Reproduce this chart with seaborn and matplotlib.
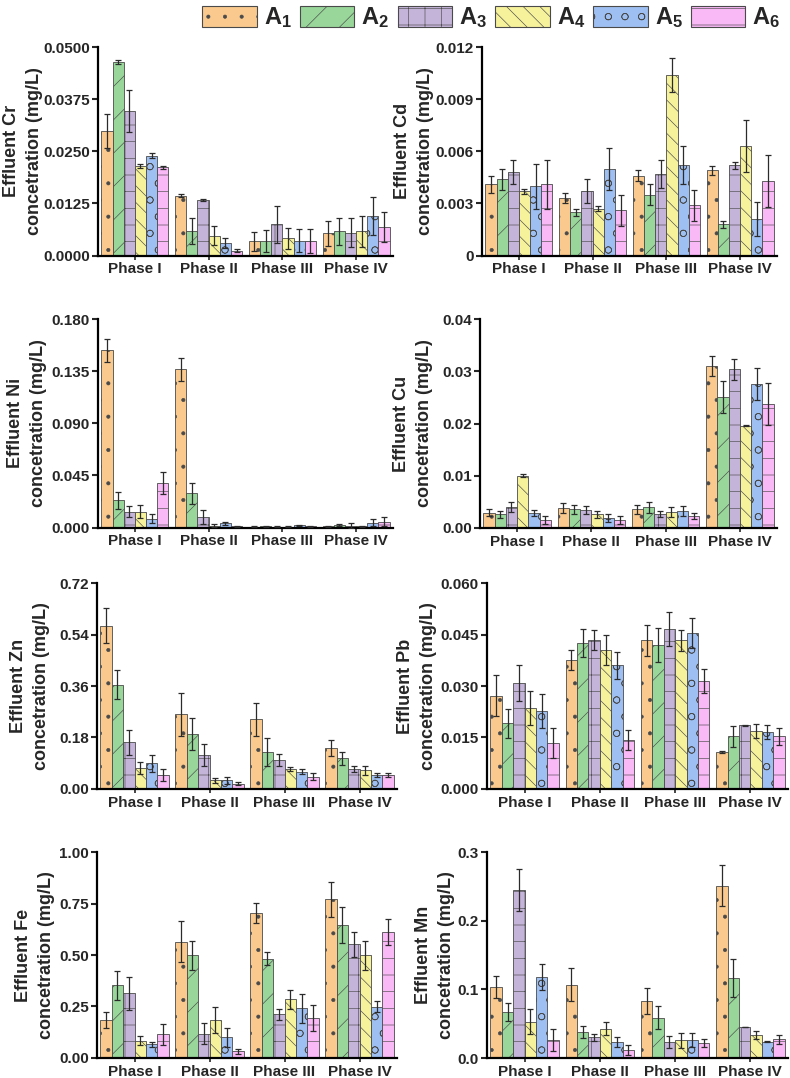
import matplotlib
matplotlib.use("Agg")
import matplotlib.pyplot as plt
from matplotlib.patches import Patch
import pandas as pd
import seaborn as sns

phases = ['Phase I', 'Phase II', 'Phase III', 'Phase IV']
treatments = ['A1', 'A2', 'A3', 'A4', 'A5', 'A6']
legend_labels = [r'$\mathbf{A_1}$', r'$\mathbf{A_2}$', r'$\mathbf{A_3}$',
                 r'$\mathbf{A_4}$', r'$\mathbf{A_5}$', r'$\mathbf{A_6}$']
colors = ['#F9C98E', '#98D69A', '#C5B4DA', '#F6F29C', '#9EBFF2', '#F9B8F6']
hatches = ['.', '/', '+', '\\\\', 'o', '-']

# values per phase (rows) and treatment A1..A6 (columns)
cr_mean = [[0.0299, 0.0464, 0.0347, 0.0215, 0.0240, 0.0212],
           [0.0144, 0.0058, 0.0133, 0.0048, 0.0031, 0.0012],
           [0.0034, 0.0035, 0.0075, 0.0041, 0.0036, 0.0034],
           [0.0053, 0.0058, 0.0055, 0.0058, 0.0095, 0.0069]]
cr_err = [[0.0040, 0.0005, 0.0050, 0.0004, 0.0005, 0.0004],
          [0.0004, 0.0031, 0.0003, 0.0022, 0.0012, 0.0004],
          [0.0022, 0.0026, 0.0044, 0.0026, 0.0027, 0.0029],
          [0.0029, 0.0033, 0.0035, 0.0037, 0.0046, 0.0036]]

cd_mean = [[0.0041, 0.0044, 0.0048, 0.0037, 0.0040, 0.0041],
           [0.0033, 0.0025, 0.0037, 0.0027, 0.0050, 0.0026],
           [0.0046, 0.0035, 0.0047, 0.0104, 0.0052, 0.0029],
           [0.0049, 0.0018, 0.0052, 0.0063, 0.0021, 0.0043]]
cd_err = [[0.0005, 0.0006, 0.0007, 0.00015, 0.0013, 0.0014],
          [0.0003, 0.0002, 0.0007, 0.00015, 0.0012, 0.0009],
          [0.0003, 0.0006, 0.0008, 0.0010, 0.0011, 0.0009],
          [0.00025, 0.0002, 0.0002, 0.0015, 0.0010, 0.0015]]

ni_mean = [[0.1532, 0.0234, 0.0138, 0.0138, 0.0075, 0.0381],
           [0.1368, 0.0294, 0.0087, 0.0017, 0.0035, 0.0012],
           [0.0008, 0.0010, 0.0008, 0.0006, 0.0020, 0.0012],
           [0.0010, 0.0022, 0.0016, 0.0012, 0.0040, 0.0049]]
ni_err = [[0.0100, 0.0070, 0.0050, 0.0058, 0.0040, 0.0095],
          [0.0100, 0.0087, 0.0060, 0.0010, 0.0010, 0.0005],
          [0.0005, 0.0005, 0.0005, 0.0005, 0.0005, 0.0005],
          [0.0005, 0.0010, 0.0020, 0.0005, 0.0030, 0.0038]]

cu_mean = [[0.0029, 0.0026, 0.0040, 0.0100, 0.0028, 0.0015],
           [0.0038, 0.0035, 0.0034, 0.0026, 0.0018, 0.0015],
           [0.0035, 0.0039, 0.0026, 0.0030, 0.0032, 0.0022],
           [0.0310, 0.0251, 0.0304, 0.0196, 0.0276, 0.0237]]
cu_err = [[0.0006, 0.0007, 0.0009, 0.0003, 0.0006, 0.0007],
          [0.0010, 0.0008, 0.0007, 0.0007, 0.0008, 0.0007],
          [0.0009, 0.0011, 0.0006, 0.0010, 0.0009, 0.0006],
          [0.0019, 0.0030, 0.0020, 0.0001, 0.0030, 0.0040]]

zn_mean = [[0.572, 0.365, 0.162, 0.074, 0.089, 0.047],
           [0.261, 0.191, 0.117, 0.029, 0.030, 0.018],
           [0.243, 0.127, 0.101, 0.068, 0.060, 0.042],
           [0.141, 0.106, 0.068, 0.064, 0.047, 0.048]]
zn_err = [[0.060, 0.050, 0.045, 0.021, 0.029, 0.021],
          [0.076, 0.056, 0.038, 0.008, 0.012, 0.004],
          [0.058, 0.049, 0.020, 0.007, 0.008, 0.012],
          [0.028, 0.023, 0.010, 0.016, 0.007, 0.008]]

pb_mean = [[0.0271, 0.0191, 0.0308, 0.0235, 0.0227, 0.0133],
           [0.0376, 0.0426, 0.0434, 0.0405, 0.0360, 0.0142],
           [0.0433, 0.0419, 0.0467, 0.0433, 0.0456, 0.0314],
           [0.0107, 0.0153, 0.0185, 0.0168, 0.0165, 0.0153]]
pb_err = [[0.0060, 0.0042, 0.0052, 0.0050, 0.0049, 0.0043],
          [0.0030, 0.0040, 0.0030, 0.0044, 0.0040, 0.0030],
          [0.0044, 0.0050, 0.0050, 0.0032, 0.0044, 0.0035],
          [0.0003, 0.0030, 0.0002, 0.0020, 0.0020, 0.0025]]

fe_mean = [[0.182, 0.352, 0.313, 0.084, 0.065, 0.114],
           [0.565, 0.498, 0.118, 0.183, 0.099, 0.032],
           [0.703, 0.482, 0.211, 0.284, 0.240, 0.192],
           [0.771, 0.646, 0.552, 0.498, 0.248, 0.612]]
fe_err = [[0.039, 0.072, 0.078, 0.023, 0.013, 0.052],
          [0.100, 0.071, 0.050, 0.063, 0.047, 0.012],
          [0.049, 0.031, 0.026, 0.047, 0.070, 0.063],
          [0.084, 0.086, 0.062, 0.071, 0.027, 0.062]]

mn_mean = [[0.103, 0.067, 0.245, 0.053, 0.118, 0.026],
           [0.107, 0.038, 0.030, 0.043, 0.023, 0.012],
           [0.083, 0.059, 0.023, 0.026, 0.026, 0.022],
           [0.251, 0.117, 0.045, 0.034, 0.024, 0.027]]
mn_err = [[0.016, 0.013, 0.030, 0.018, 0.019, 0.016],
          [0.024, 0.009, 0.005, 0.009, 0.007, 0.007],
          [0.019, 0.017, 0.009, 0.011, 0.010, 0.006],
          [0.030, 0.028, 0.0005, 0.006, 0.001, 0.007]]

cr_ticks = ['0.0000', '0.0125', '0.0250', '0.0375', '0.0500']
cd_ticks = ['0', '0.003', '0.006', '0.009', '0.012']
ni_ticks = ['0.000', '0.045', '0.090', '0.135', '0.180']
cu_ticks = ['0.00', '0.01', '0.02', '0.03', '0.04']
zn_ticks = ['0.00', '0.18', '0.36', '0.54', '0.72']
pb_ticks = ['0.000', '0.015', '0.030', '0.045', '0.060']
fe_ticks = ['0.00', '0.25', '0.50', '0.75', '1.00']
mn_ticks = ['0.0', '0.1', '0.2', '0.3']

panels = [
    ('Cr', cr_mean, cr_err, cr_ticks),
    ('Cd', cd_mean, cd_err, cd_ticks),
    ('Ni', ni_mean, ni_err, ni_ticks),
    ('Cu', cu_mean, cu_err, cu_ticks),
    ('Zn', zn_mean, zn_err, zn_ticks),
    ('Pb', pb_mean, pb_err, pb_ticks),
    ('Fe', fe_mean, fe_err, fe_ticks),
    ('Mn', mn_mean, mn_err, mn_ticks),
]

sns.set_style('ticks')
plt.rcParams['font.family'] = ['Liberation Sans', 'DejaVu Sans']
plt.rcParams['font.weight'] = 'bold'
plt.rcParams['mathtext.fontset'] = 'custom'
plt.rcParams['mathtext.rm'] = 'Liberation Sans'
plt.rcParams['mathtext.bf'] = 'Liberation Sans:bold'
plt.rcParams['hatch.linewidth'] = 0.45

W, H = 790, 1078
fig = plt.figure(figsize=(W / 100, H / 100), dpi=100)

# pixel boxes: (left, right, top, bottom) and right edge of the y label
boxes = [(98, 393, 47.3, 255.5), (482, 777, 47.3, 255.5),
         (98, 393, 319.3, 527.5), (480, 777, 319.3, 527.7),
         (97, 397, 583.3, 788.7), (487, 788, 583.3, 788.7),
         (97, 397, 852.3, 1057.8), (487, 788, 852.3, 1058)]
label_right = [43, 434, 47, 433, 50, 437, 55, 455]

edge = '#4a4a4a'

for i, (metal, means, errs, ticks) in enumerate(panels):
    left, right, top, bot = boxes[i]
    ax = fig.add_axes([left / W, 1 - bot / H, (right - left) / W, (bot - top) / H])

    df = pd.DataFrame([(p, t, means[pi][ti])
                       for pi, p in enumerate(phases)
                       for ti, t in enumerate(treatments)],
                      columns=['phase', 'treat', 'value'])
    sns.barplot(data=df, x='phase', y='value', hue='treat', palette=colors,
                order=phases, hue_order=treatments, width=0.91, errorbar=None,
                saturation=1, edgecolor=edge, linewidth=0.6, legend=False, ax=ax)

    bar_groups = list(ax.containers)
    for ti, cont in enumerate(bar_groups):
        xs, ys, es = [], [], []
        for pi, bar in enumerate(cont.patches):
            bar.set_hatch(hatches[ti])
            xs.append(bar.get_x() + bar.get_width() / 2)
            ys.append(bar.get_height())
            es.append(errs[pi][ti])
        ax.errorbar(xs, ys, yerr=es, fmt='none', ecolor='#2b2b2b',
                    elinewidth=0.9, capsize=2.4, capthick=0.9, zorder=5)

    tick_vals = [float(t) for t in ticks]
    ax.set_ylim(0, tick_vals[-1])
    ax.set_yticks(tick_vals)
    ax.set_yticklabels(ticks)
    ax.set_xlim(-0.5, 3.5)
    ax.set_xlabel('')
    ax.set_ylabel(f'Effluent {metal}\nconcetration (mg/L)', fontsize=13,
                  fontweight='bold', linespacing=1.45)
    ax.yaxis.set_label_coords(label_right[i] / W, 1 - (top + bot) / 2 / H,
                              transform=fig.transFigure)
    sns.despine(ax=ax)
    for s in ('left', 'bottom'):
        ax.spines[s].set_linewidth(1.6)
        ax.spines[s].set_color('black')
    ax.tick_params(axis='y', labelsize=11, width=1.5, length=4, direction='out', pad=2)
    ax.tick_params(axis='x', labelsize=11, width=1.2, length=3, direction='out', pad=2)
    for lab in ax.get_xticklabels() + ax.get_yticklabels():
        lab.set_fontweight('bold')

handles = [Patch(facecolor=c, edgecolor=edge, hatch=h, linewidth=0.8)
           for c, h in zip(colors, hatches)]
fig.legend(handles, legend_labels, loc='upper center', bbox_to_anchor=(0.622, 1.008),
           ncol=6, frameon=False, fontsize=17, handlelength=2.3, handleheight=0.95,
           handletextpad=0.3, columnspacing=0.35, borderaxespad=0.2)

fig.savefig('out.png', dpi=100)
